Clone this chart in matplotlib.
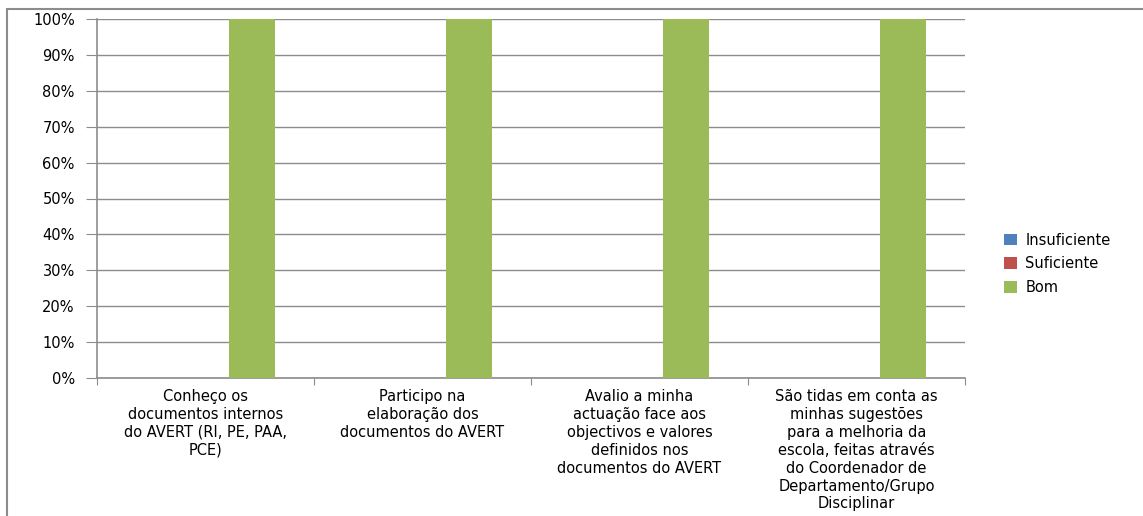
import numpy as np
import matplotlib.pyplot as plt
from matplotlib.patches import Rectangle

# dados do grafico
categorias = [
    "Conheço os\ndocumentos internos\ndo AVERT (RI, PE, PAA,\nPCE)",
    "Participo na\nelaboração dos\ndocumentos do AVERT",
    "Avalio a minha\nactuação face aos\nobjectivos e valores\ndefinidos nos\ndocumentos do AVERT",
    "São tidas em conta as\nminhas sugestões\npara a melhoria da\nescola, feitas através\ndo Coordenador de\nDepartamento/Grupo\nDisciplinar",
]
series = ["Insuficiente", "Suficiente", "Bom"]
insuficiente = [0, 0, 0, 0]
suficiente = [0, 0, 0, 0]
bom = [100, 100, 100, 100]
cores = ["#4F81BD", "#C0504D", "#9BBB59"]

plt.rcParams["font.family"] = ["DejaVu Sans"]

fig = plt.figure(figsize=(11.43, 5.16), dpi=100)
ax = fig.add_axes([97 / 1143, 1 - 378 / 516, 868 / 1143, 359 / 516])

# moldura exterior
fig.patches.append(Rectangle((7 / 1143, -0.1), 1.2, 1 - 9 / 516 + 0.1,
                             transform=fig.transFigure, fill=False,
                             edgecolor="#8C8C8C", linewidth=1.5))

x = np.arange(len(categorias))
w = 0.212
for i, (vals, nome) in enumerate(zip([insuficiente, suficiente, bom], series)):
    ax.bar(x + (i - 1) * w, vals, width=w, color=cores[i], label=nome, zorder=3)

ax.set_xlim(-0.5, len(categorias) - 0.5)
ax.set_ylim(0, 100)
ax.set_yticks(np.arange(0, 101, 10))
ax.set_yticklabels([f"{v}%" for v in range(0, 101, 10)], fontsize=10.5)
ax.yaxis.grid(True, color="#8C8C8C", linewidth=1, zorder=0)
ax.tick_params(axis="y", length=8, color="#8C8C8C", pad=8)

ax.set_xticks(np.arange(-0.5, len(categorias), 1), minor=False)
ax.set_xticklabels([])
ax.set_xticks(x, minor=True)
ax.set_xticklabels(categorias, minor=True, fontsize=10.5, linespacing=1.24, va="top")
ax.tick_params(axis="x", which="major", length=5, color="#8C8C8C")
ax.tick_params(axis="x", which="minor", length=0, pad=8)

for s in ["top", "right"]:
    ax.spines[s].set_visible(False)
for s in ["left", "bottom"]:
    ax.spines[s].set_color("#8C8C8C")
    ax.spines[s].set_linewidth(1.2)

ax.legend(loc="center left", bbox_to_anchor=(1.03, 0.318), frameon=False,
          fontsize=10.5, handlelength=0.85, handleheight=0.85, labelspacing=0.6,
          handletextpad=0.6)

fig.savefig("out.png", dpi=100)
